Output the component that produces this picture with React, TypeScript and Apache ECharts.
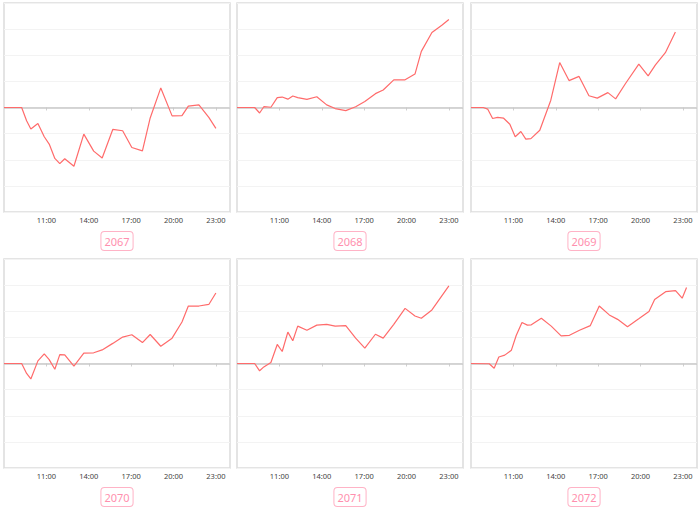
import React, { useEffect, useRef } from "react";
import * as echarts from "echarts";

const titles = ["2067", "2068", "2069", "2070", "2071", "2072"];
const tickHours = [11, 14, 17, 20, 23];

const sharedTimes = [8.0, 9.25, 9.6, 9.9, 10.4, 10.85, 11.2, 11.6, 11.95, 12.3, 12.95, 13.65, 14.35, 14.95, 15.7, 16.4, 17.05, 17.8, 18.35, 19.1, 19.9, 20.6, 21.05, 21.8, 22.5, 23.0];
const times2069 = [8.0, 8.87, 9.18, 9.53, 9.88, 10.31, 10.75, 11.13, 11.53, 11.88, 12.24, 12.87, 13.65, 14.28, 14.94, 15.65, 16.35, 16.94, 17.69, 18.24, 18.94, 19.88, 20.54, 21.06, 21.76, 22.47];
const times2072 = [8.0, 9.29, 9.64, 9.97, 10.39, 10.86, 11.2, 11.61, 11.99, 12.27, 12.98, 13.68, 14.38, 14.97, 15.68, 16.45, 17.08, 17.79, 18.38, 19.08, 19.9, 20.6, 21.0, 21.78, 22.48, 22.95, 23.26];

const values2067 = [0, 0, -0.51, -0.82, -0.61, -1.12, -1.4, -1.95, -2.15, -1.96, -2.25, -1.02, -1.67, -1.93, -0.84, -0.89, -1.53, -1.66, -0.4, 0.75, -0.32, -0.31, 0.05, 0.1, -0.38, -0.8];
const values2068 = [0, 0, -0.21, 0.03, 0.01, 0.38, 0.4, 0.32, 0.44, 0.38, 0.31, 0.41, 0.1, -0.04, -0.12, 0.03, 0.23, 0.53, 0.67, 1.06, 1.06, 1.28, 2.15, 2.87, 3.15, 3.37];
const values2069 = [0, 0, -0.06, -0.42, -0.38, -0.41, -0.64, -1.12, -0.92, -1.21, -1.19, -0.87, 0.28, 1.72, 1.03, 1.19, 0.45, 0.36, 0.57, 0.33, 0.92, 1.66, 1.21, 1.63, 2.1, 2.89];
const values2070 = [0, 0, -0.38, -0.59, 0.1, 0.37, 0.15, -0.22, 0.34, 0.33, -0.1, 0.4, 0.41, 0.52, 0.77, 1.01, 1.1, 0.8, 1.11, 0.66, 0.97, 1.59, 2.2, 2.2, 2.26, 2.7];
const values2071 = [0, 0, -0.28, -0.13, 0.04, 0.73, 0.46, 1.2, 0.87, 1.43, 1.27, 1.47, 1.5, 1.43, 1.45, 0.97, 0.59, 1.12, 0.97, 1.5, 2.11, 1.82, 1.73, 2.05, 2.59, 2.97];
const values2072 = [0, -0.01, -0.18, 0.25, 0.32, 0.51, 1.07, 1.57, 1.47, 1.48, 1.73, 1.43, 1.06, 1.08, 1.27, 1.45, 2.2, 1.86, 1.69, 1.41, 1.72, 1.99, 2.45, 2.75, 2.79, 2.5, 2.91];

const panelTimes = [sharedTimes, sharedTimes, times2069, sharedTimes, sharedTimes, times2072];
const panelValues = [values2067, values2068, values2069, values2070, values2071, values2072];

const colLefts = [4, 237, 471];
const rowTops = [3, 259];
const gridW = 226;
const gridH = 209;

export default function App() {
  const ref = useRef<HTMLDivElement>(null);
  useEffect(() => {
    if (!ref.current) return;
    const chart = echarts.init(ref.current, undefined, { renderer: "svg" });
    const grids: any[] = [];
    const xAxes: any[] = [];
    const yAxes: any[] = [];
    const series: any[] = [];
    const graphics: any[] = [];
    for (let i = 0; i < 6; i++) {
      const c = i % 3;
      const r = Math.floor(i / 3);
      grids.push({
        left: colLefts[c],
        top: rowTops[r],
        width: gridW,
        height: gridH,
        show: true,
        borderColor: "#dcdcdc",
        borderWidth: 1.5,
        backgroundColor: "#fff",
      });
      xAxes.push({
        type: "value",
        gridIndex: i,
        min: 8,
        max: 24,
        axisLine: { show: false },
        splitLine: { show: false },
        axisTick: { show: true, customValues: tickHours, length: 3, lineStyle: { color: "#d0d0d0" } },
        axisLabel: {
          customValues: tickHours,
          formatter: (v: number) => `${v}:00`,
          fontSize: 7.5,
          color: "#444",
          margin: 4,
          fontFamily: "Noto Sans",
        },
      });
      yAxes.push({
        type: "value",
        gridIndex: i,
        min: -4,
        max: 4,
        interval: 1,
        axisLine: { show: false },
        axisTick: { show: false },
        axisLabel: { show: false },
        splitLine: { show: true, lineStyle: { color: "#f3f3f3", width: 1 } },
      });
      const t = panelTimes[i];
      const v = panelValues[i];
      series.push({
        type: "line",
        xAxisIndex: i,
        yAxisIndex: i,
        data: t.map((x, k) => [x, v[k]]),
        showSymbol: false,
        symbol: "none",
        lineStyle: { color: "#ff6b6b", width: 1.2 },
        z: 3,
        markLine: {
          silent: true,
          symbol: "none",
          label: { show: false },
          lineStyle: { color: "#c8c8c8", width: 1.6, type: "solid" },
          data: [{ yAxis: 0 }],
          z: 2,
        },
      });
      graphics.push({
        type: "text",
        x: colLefts[c] + gridW / 2,
        y: rowTops[r] + gridH + 29,
        style: {
          text: titles[i],
          fontSize: 11,
          fontFamily: "Noto Sans",
          fill: "#ff8fae",
          align: "center",
          verticalAlign: "middle",
          borderColor: "#ffb3c6",
          borderWidth: 1,
          borderRadius: 3,
          padding: [4, 3, 3, 3],
          backgroundColor: "#fff",
        },
      });
    }
    chart.setOption({
      animation: false,
      backgroundColor: "#fff",
      grid: grids,
      xAxis: xAxes,
      yAxis: yAxes,
      series,
      graphic: graphics,
    });
    return () => chart.dispose();
  }, []);
  return (
    <div
      ref={ref}
      style={{ position: "fixed", left: 0, top: 0, width: 700, height: 511 }}
    />
  );
}
